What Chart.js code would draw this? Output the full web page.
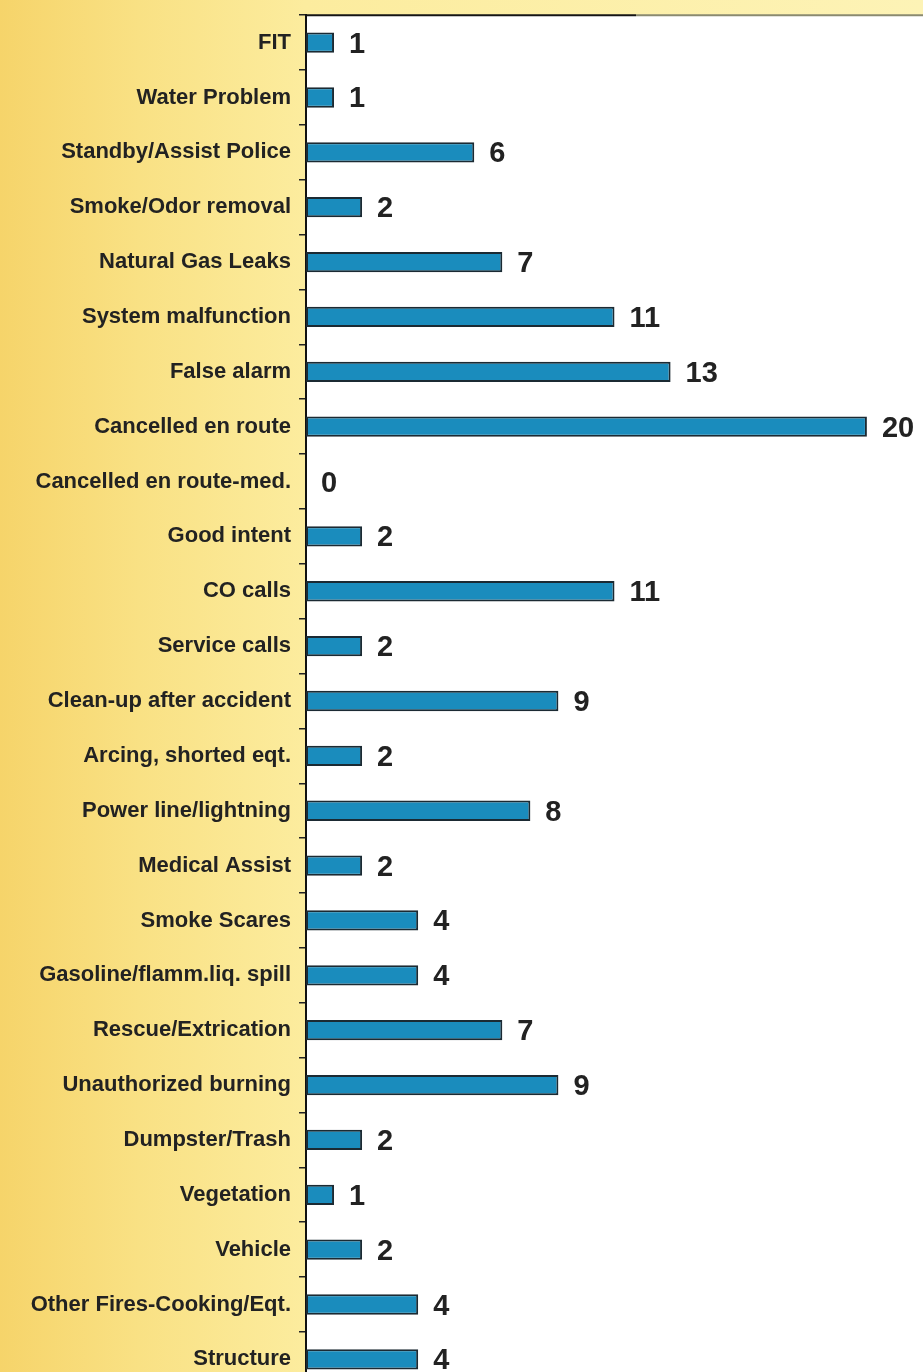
<!DOCTYPE html>
<html>
<head>
<meta charset="utf-8">
<script src="https://cdn.jsdelivr.net/npm/chart.js@4/dist/chart.umd.min.js"></script>
<style>
  html, body { margin: 0; padding: 0; overflow: hidden; background: #fdf0a8; }
  #wrap { width: 923px; height: 1372px; overflow: hidden; position: relative; }
  #callChart { position: absolute; left: 0; top: -6px; }
</style>
</head>
<body>
<div id="wrap"><canvas id="callChart" width="923" height="1414"></canvas></div>
<script>
// kategori panggilan (urutan dari atas ke bawah)
const categories = [
    'FIT', 'Water Problem', 'Standby/Assist Police', 'Smoke/Odor removal',
    'Natural Gas Leaks', 'System malfunction', 'False alarm', 'Cancelled en route',
    'Cancelled en route-med.', 'Good intent', 'CO calls', 'Service calls',
    'Clean-up after accident', 'Arcing, shorted eqt.', 'Power line/lightning',
    'Medical Assist', 'Smoke Scares', 'Gasoline/flamm.liq. spill', 'Rescue/Extrication',
    'Unauthorized burning', 'Dumpster/Trash', 'Vegetation', 'Vehicle',
    'Other Fires-Cooking/Eqt.', 'Structure'
];
const callCounts = [1, 1, 6, 2, 7, 11, 13, 20, 0, 2, 11, 2, 9, 2, 8, 2, 4, 4, 7, 9, 2, 1, 2, 4, 4];
const xMax = 22;

const fontFamily = 'Arial, "Liberation Sans", Helvetica, sans-serif';

// background kuning di luar area grafik
const paperBg = {
    id: 'paperBg',
    beforeDraw(chart) {
        const { ctx, chartArea, width, height } = chart;
        ctx.save();
        const g = ctx.createLinearGradient(0, 0, width, 0);
        g.addColorStop(0, '#f6d46a');
        g.addColorStop(0.15, '#f9e184');
        g.addColorStop(0.33, '#fcec9e');
        g.addColorStop(1, '#fdf3b6');
        ctx.fillStyle = g;
        ctx.fillRect(0, 0, width, height);
        ctx.fillStyle = '#ffffff';
        ctx.fillRect(chartArea.left, chartArea.top, chartArea.right - chartArea.left, chartArea.bottom - chartArea.top);
        // garis atas area grafik
        ctx.strokeStyle = '#151515';
        ctx.lineWidth = 2;
        ctx.beginPath();
        ctx.moveTo(chartArea.left, chartArea.top);
        ctx.lineTo(chartArea.left + 330, chartArea.top);
        ctx.stroke();
        ctx.strokeStyle = '#8a8a70';
        ctx.beginPath();
        ctx.moveTo(chartArea.left + 330, chartArea.top);
        ctx.lineTo(chartArea.right, chartArea.top);
        ctx.stroke();
        ctx.restore();
    }
};

// angka di ujung batang
const valueLabels = {
    id: 'valueLabels',
    afterDatasetsDraw(chart) {
        const { ctx } = chart;
        const meta = chart.getDatasetMeta(0);
        ctx.save();
        ctx.font = 'bold 29px ' + fontFamily;
        ctx.fillStyle = '#222222';
        ctx.textAlign = 'left';
        ctx.textBaseline = 'middle';
        meta.data.forEach((bar, i) => {
            ctx.fillText(String(callCounts[i]), bar.x + 15, bar.y + 2);
        });
        ctx.restore();
    }
};

const ctx = document.getElementById('callChart').getContext('2d');
new Chart(ctx, {
    type: 'bar',
    data: {
        labels: categories,
        datasets: [{
            data: callCounts,
            backgroundColor: '#1a8cbd',
            borderColor: '#1b2a33',
            borderWidth: 2,
            borderSkipped: false,
            categoryPercentage: 1.0,
            barPercentage: 0.37
        }]
    },
    options: {
        indexAxis: 'y',
        responsive: false,
        animation: false,
        layout: { padding: { top: 8, right: 0, bottom: 0, left: 0 } },
        scales: {
            x: {
                display: false,
                min: 0,
                max: xMax
            },
            y: {
                afterFit(scale) { scale.width = 306; },
                border: { display: true, color: '#111111', width: 2 },
                grid: {
                    display: true,
                    drawOnChartArea: false,
                    drawTicks: true,
                    tickLength: 7,
                    color: '#222222',
                    lineWidth: 1.5
                },
                ticks: {
                    color: '#222222',
                    padding: 8,
                    font: { family: fontFamily, size: 22, weight: 'bold' }
                }
            }
        },
        plugins: {
            legend: { display: false },
            tooltip: { enabled: false }
        }
    },
    plugins: [paperBg, valueLabels]
});
</script>
</body>
</html>
